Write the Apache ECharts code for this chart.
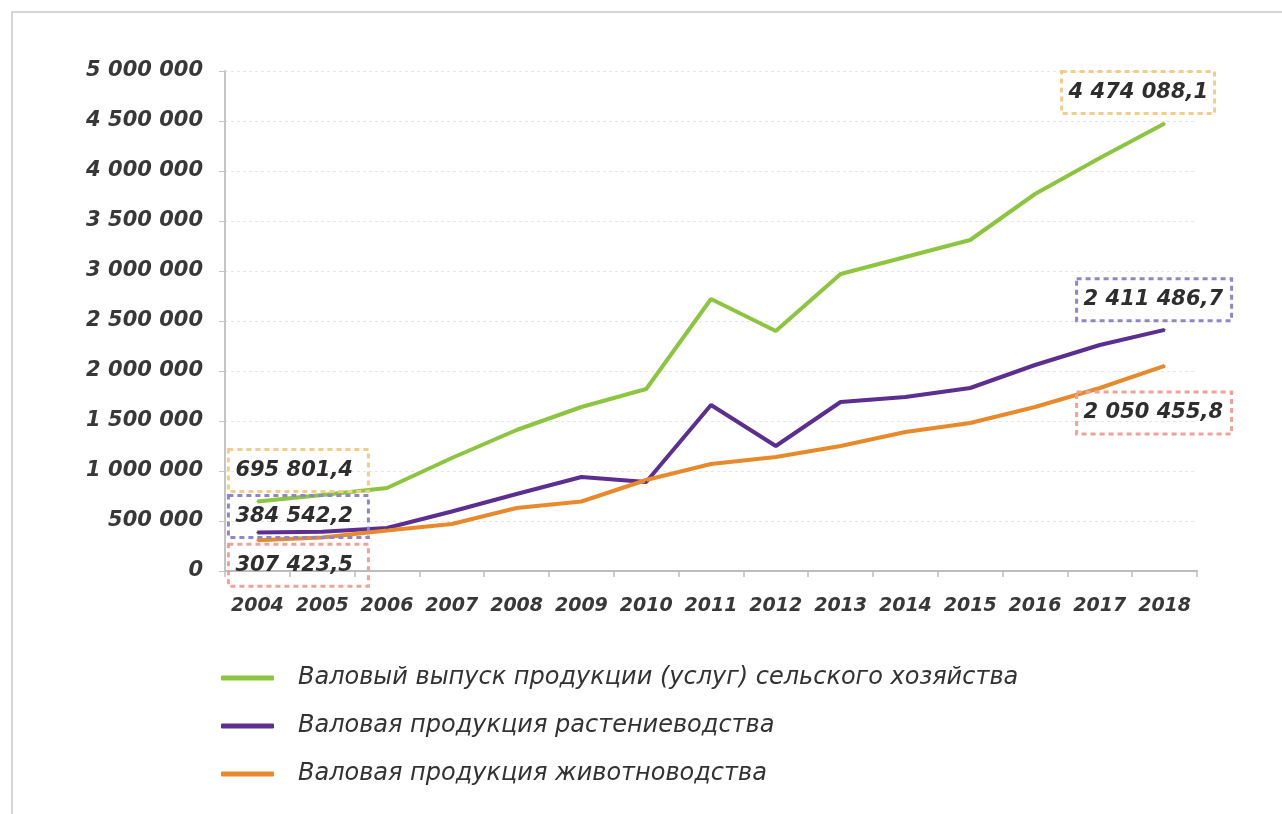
<!DOCTYPE html>
<html>
<head>
<meta charset="utf-8">
<script src="https://cdn.jsdelivr.net/npm/echarts@6/dist/echarts.min.js"></script>
<style>
html,body{margin:0;padding:0;background:#fff;}
#chart{width:1282px;height:814px;}
</style>
</head>
<body>
<div id="chart"></div>
<script>
var years = ['2004','2005','2006','2007','2008','2009','2010','2011','2012','2013','2014','2015','2016','2017','2018'];
var seriesNames = [
  'Валовый выпуск продукции (услуг) сельского хозяйства',
  'Валовая продукция растениеводства',
  'Валовая продукция животноводства'
];
var totalOutput = [695801.4, 760000, 830000, 1130000, 1410000, 1640000, 1820000, 2720000, 2400000, 2970000, 3140000, 3310000, 3770000, 4130000, 4474088.1];
var cropOutput = [384542.2, 392000, 430000, 595000, 770000, 940000, 890000, 1660000, 1250000, 1690000, 1740000, 1830000, 2060000, 2260000, 2411486.7];
var livestockOutput = [307423.5, 335000, 405000, 470000, 630000, 695000, 910000, 1070000, 1140000, 1250000, 1390000, 1480000, 1640000, 1830000, 2050455.8];
var yTicks = {min: 0, max: 5000000, interval: 500000};

var FONT = 'DejaVu Sans';
function fmtInt(v){ return String(Math.round(v)).replace(/\B(?=(\d{3})+(?!\d))/g, ' '); }
function fmtDec(v){
  var parts = v.toFixed(1).split('.');
  return parts[0].replace(/\B(?=(\d{3})+(?!\d))/g, ' ') + ',' + parts[1];
}
function boxLabel(borderColor, pos, w){
  return {
    show: true,
    position: pos,
    formatter: function(p){ return fmtDec(p.value); },
    fontFamily: FONT, fontStyle: 'italic', fontWeight: 'bold', fontSize: 21, color: '#2e2e2e',
    lineHeight: 26,
    padding: [8, 6, 8, 7],
    width: w,
    borderColor: borderColor, borderType: [5, 4], borderWidth: 1.5,
    backgroundColor: 'rgba(255,255,255,0)'
  };
}
function buildData(arr, firstLabel, lastLabel){
  return arr.map(function(v, i){
    if (i === 0) return {value: v, label: firstLabel};
    if (i === arr.length - 1) return {value: v, label: lastLabel};
    return v;
  });
}
var colors = ['#8cc53f', '#5b2e90', '#e88a2c'];
function lineSeries(name, arr, color, firstLabel, lastLabel){
  return {
    name: name, type: 'line', data: buildData(arr, firstLabel, lastLabel),
    symbol: 'circle', symbolSize: 2, showSymbol: true,
    itemStyle: {color: color},
    lineStyle: {color: color, width: 4},
    label: {show: false}
  };
}

var chart = echarts.init(document.getElementById('chart'), null, {renderer: 'canvas'});
chart.setOption({
  animation: false,
  backgroundColor: '#ffffff',
  color: colors,
  graphic: [{
    type: 'rect', shape: {x: 12, y: 12, width: 1300, height: 840},
    style: {fill: 'none', stroke: '#d6d6d6', lineWidth: 2}, silent: true
  }],
  grid: {left: 225, right: 85, top: 71, bottom: 243, containLabel: false},
  legend: {
    orient: 'vertical', left: 216, top: 660,
    icon: 'roundRect', itemWidth: 53, itemHeight: 5, itemGap: 22,
    textStyle: {fontFamily: FONT, fontStyle: 'italic', fontSize: 24, color: '#333', padding: [0, 0, 0, 19], lineHeight: 26},
    data: seriesNames
  },
  xAxis: {
    type: 'category', data: years, boundaryGap: true,
    axisLine: {lineStyle: {color: '#bdbdbd', width: 2}},
    axisTick: {show: true, length: 6, lineStyle: {color: '#bdbdbd', width: 1.5}},
    axisLabel: {interval: 0, margin: 26, fontFamily: FONT, fontStyle: 'italic', fontWeight: 'bold', fontSize: 19, color: '#383838'}
  },
  yAxis: {
    type: 'value', min: yTicks.min, max: yTicks.max, interval: yTicks.interval,
    axisLine: {show: true, lineStyle: {color: '#c4c4c4', width: 2}},
    axisTick: {show: true, length: 6, lineStyle: {color: '#c4c4c4'}},
    splitLine: {show: true, lineStyle: {color: '#e6e6e6', type: [3, 3], width: 1}},
    axisLabel: {margin: 22, fontFamily: FONT, fontStyle: 'italic', fontWeight: 'bold', fontSize: 21, color: '#383838', formatter: fmtInt}
  },
  series: [
    lineSeries(seriesNames[0], totalOutput, colors[0], boxLabel('#f3cd88', [-28, -51], 127), boxLabel('#f3cd88', [-102, -51], 140)),
    lineSeries(seriesNames[1], cropOutput, colors[1], boxLabel('#8e86cc', [-28, -36], 127), boxLabel('#8e86cc', [-87, -50], 142)),
    lineSeries(seriesNames[2], livestockOutput, colors[2], boxLabel('#f0a29a', [-28, 5], 127), boxLabel('#f0a29a', [-87, 27], 142))
  ]
});
</script>
</body>
</html>
